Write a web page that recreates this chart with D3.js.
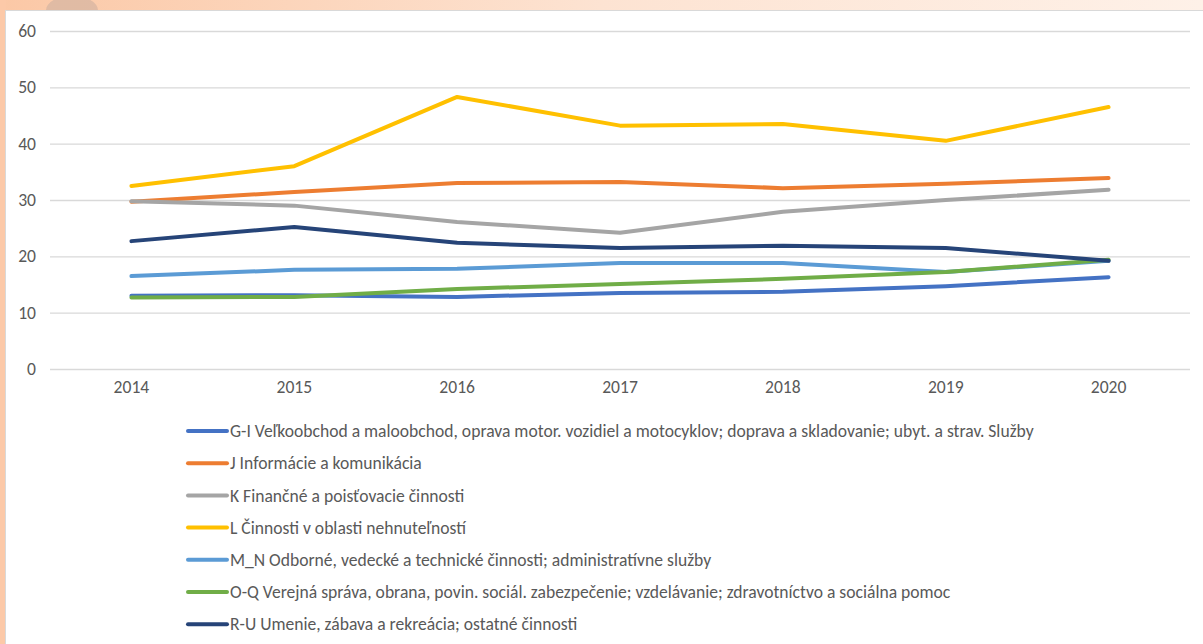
<!DOCTYPE html>
<html><head><meta charset="utf-8">
<script src="https://cdn.jsdelivr.net/npm/d3@7"></script>
<style>html,body{margin:0;padding:0;overflow:hidden;background:#fff}</style>
</head><body>
<svg id="c" width="1203" height="644"></svg>
<script>
const years = ["2014","2015","2016","2017","2018","2019","2020"];
const yTicks = [0,10,20,30,40,50,60];
const seriesNames = [
  "G-I Veľkoobchod a maloobchod, oprava motor. vozidiel a motocyklov; doprava a skladovanie; ubyt. a strav. Služby",
  "J Informácie a komunikácia",
  "K Finančné a poisťovacie činnosti",
  "L Činnosti v oblasti nehnuteľností",
  "M_N Odborné, vedecké a technické činnosti; administratívne služby",
  "O-Q Verejná správa, obrana, povin. sociál. zabezpečenie; vzdelávanie; zdravotníctvo a sociálna pomoc",
  "R-U Umenie, zábava a rekreácia; ostatné činnosti"
];
const valsGI = [13.0, 13.1, 12.8, 13.5, 13.7, 14.7, 16.3];
const valsJ  = [29.7, 31.4, 33.0, 33.2, 32.1, 32.9, 33.9];
const valsK  = [29.8, 29.0, 26.1, 24.2, 27.9, 30.0, 31.8];
const valsL  = [32.5, 36.0, 48.3, 43.2, 43.5, 40.5, 46.5];
const valsMN = [16.5, 17.6, 17.8, 18.8, 18.8, 17.2, 19.2];
const valsOQ = [12.7, 12.8, 14.2, 15.1, 16.0, 17.2, 19.4];
const valsRU = [22.7, 25.2, 22.4, 21.5, 21.9, 21.5, 19.2];
const colors = ["#4472C4","#ED7D31","#A5A5A5","#FFC000","#5B9BD5","#70AD47","#264478"];

(function(){
const series = [valsGI, valsJ, valsK, valsL, valsMN, valsOQ, valsRU];
const svg = d3.select("#c");
const defs = svg.append("defs");
const g1 = defs.append("linearGradient").attr("id","bg").attr("x1","0").attr("x2","1").attr("y1","0").attr("y2","0");
g1.append("stop").attr("offset","0").attr("stop-color","#fbc8a6");
g1.append("stop").attr("offset","0.5").attr("stop-color","#fde3d2");
g1.append("stop").attr("offset","1").attr("stop-color","#fef1e8");
svg.append("rect").attr("width",1203).attr("height",644).attr("fill","url(#bg)");
svg.append("rect").attr("x",0).attr("y",0).attr("width",6).attr("height",644).attr("fill","#fcc9a8");
svg.append("ellipse").attr("cx",72).attr("cy",10).attr("rx",26).attr("ry",14).attr("fill","#d9b6a3").attr("opacity",0.8);
svg.append("rect").attr("x",5.5).attr("y",10.5).attr("width",1210).attr("height",640)
  .attr("fill","#fff").attr("stroke","#d9d9d9").attr("stroke-width",1);

const pL = 50, pR = 1190, pT = 31, pB = 369;
const x = d3.scaleBand().domain(years).range([pL,pR]);
const y = d3.scaleLinear().domain([0,60]).range([pB,pT]);
const font = "Calibri, Carlito, 'Open Sans', 'Liberation Sans', sans-serif";

// legend first to measure font
const lg = svg.append("g");
seriesNames.forEach((n,i)=>{
  const yy = 431 + i*32.2;
  lg.append("line").attr("x1",188).attr("x2",227).attr("y1",yy).attr("y2",yy)
    .attr("stroke",colors[i]).attr("stroke-width",4).attr("stroke-linecap","round");
  lg.append("text").attr("x",230).attr("y",yy).attr("dy","0.35em")
    .attr("fill","#595959").attr("font-size",15).attr("font-family",font).text(n);
});
const t0 = lg.select("text").node();
const w = t0.getComputedTextLength();
const fs = 15 * (804 / w);
lg.selectAll("text").attr("font-size", fs);

const ga = svg.append("g").attr("transform",`translate(${pL},0)`)
  .call(d3.axisLeft(y).tickValues(yTicks).tickSize(-(pR-pL)).tickPadding(14));
ga.select(".domain").remove();
ga.attr("font-size", fs).attr("font-family", font);
ga.selectAll(".tick line").attr("stroke","#d9d9d9").attr("stroke-width",1.3);
ga.selectAll(".tick text").attr("fill","#595959").style("font-size",fs+"px").style("font-family",font);

const gx = svg.append("g").attr("transform",`translate(0,${pB})`)
  .call(d3.axisBottom(x).tickSize(0).tickPadding(12));
gx.select(".domain").remove();
gx.attr("font-size", fs).attr("font-family", font);
gx.selectAll(".tick text").attr("fill","#595959").style("font-size",fs+"px").style("font-family",font);

const line = d3.line().x((d,i)=>x(years[i])+x.bandwidth()/2).y(d=>y(d));
series.forEach((s,i)=>{
  svg.append("path").datum(s).attr("d",line).attr("fill","none")
    .attr("stroke",colors[i]).attr("stroke-width",4).attr("stroke-linecap","round").attr("stroke-linejoin","round");
});
})();
</script>
</body></html>
